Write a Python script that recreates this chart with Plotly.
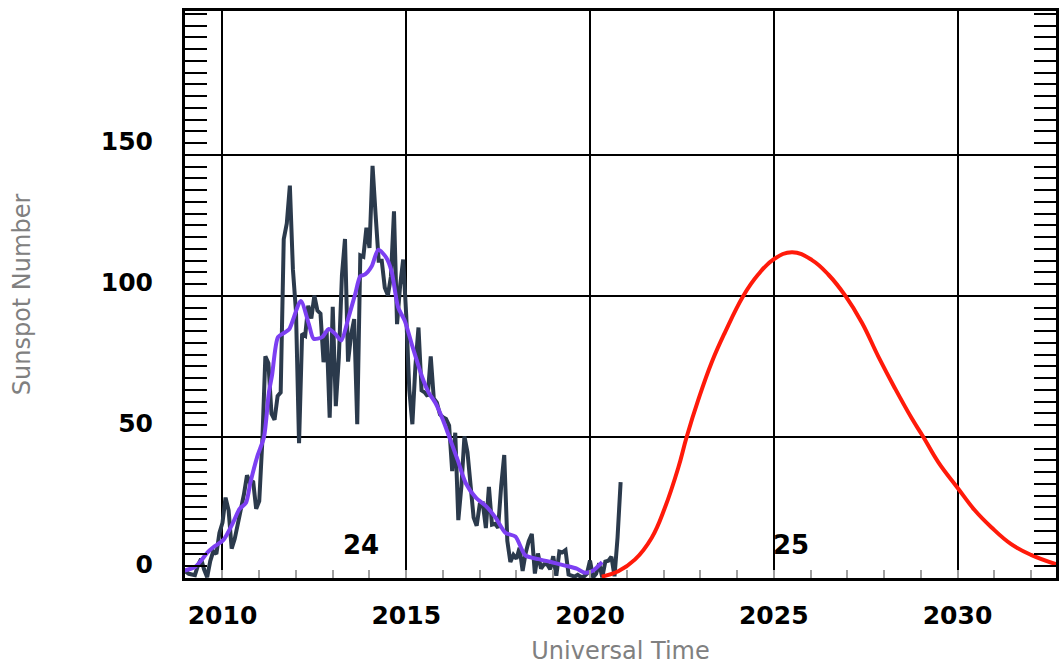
import plotly.graph_objects as go

# Monthly mean sunspot number, starting December 2008
first_year, first_month = 2008, 12
monthly_ssn = [
    2.0,
    2.3, 1.5, 1.2, 1.0, 4.5, 6.8, 3.0, 0.3, 6.0, 9.5, 8.5, 16.0,          # 2009
    19.6, 28.5, 24.0, 10.4, 13.9, 18.8, 25.2, 29.6, 36.4, 33.6, 34.4, 24.5,  # 2010
    27.3, 48.3, 78.6, 76.1, 58.2, 56.1, 64.5, 65.8, 120.1, 125.7, 139.1, 109.3,  # 2011
    94.4, 47.8, 86.6, 85.9, 96.5, 92.0, 100.1, 94.8, 93.7, 76.5, 87.6, 56.8,  # 2012
    96.1, 60.9, 78.3, 107.3, 120.2, 76.7, 86.2, 91.8, 54.5, 114.4, 113.9, 124.2,  # 2013
    117.0, 146.1, 128.7, 112.5, 112.5, 102.9, 100.2, 106.9, 130.0, 90.0, 103.6, 112.9,  # 2014
    93.0, 66.7, 54.5, 75.3, 88.8, 66.5, 65.8, 64.4, 78.6, 63.6, 62.2, 58.0,  # 2015
    57.0, 56.4, 54.1, 37.9, 51.5, 20.5, 32.4, 50.2, 44.6, 33.4, 21.4, 18.5,  # 2016
    26.1, 26.4, 17.7, 32.3, 18.9, 19.2, 17.8, 32.6, 43.6, 13.2, 5.7, 8.2,   # 2017
    6.8, 10.7, 2.5, 8.9, 13.1, 15.6, 1.6, 8.7, 3.3, 4.9, 4.9, 3.1,          # 2018
    7.7, 0.8, 9.4, 9.1, 9.9, 1.2, 0.9, 0.5, 1.1, 0.4, 0.5, 1.5,             # 2019
    6.2, 0.2, 1.5, 5.2, 0.2, 5.8, 6.1, 7.5, 0.6, 14.4, 34.0,                # 2020
]
monthly_t = [first_year + (first_month - 1 + i) / 12 for i in range(len(monthly_ssn))]

# Smoothed sunspot number
smoothed_t = [2008.92, 2009.25, 2009.42, 2009.6, 2009.75, 2010.02, 2010.29, 2010.46,
              2010.64, 2010.76, 2010.95, 2011.13, 2011.26, 2011.35, 2011.51, 2011.69,
              2011.82, 2012.13, 2012.35, 2012.48, 2012.71, 2012.89, 2013.07, 2013.23,
              2013.43, 2013.61, 2013.75, 2013.88, 2014.06, 2014.24, 2014.46, 2014.6,
              2014.78, 2014.96, 2015.17, 2015.44, 2015.6, 2015.81,
              2016.0, 2016.17, 2016.4, 2016.62, 2016.9, 2017.17, 2017.43, 2017.7,
              2017.97, 2018.24, 2018.6, 2018.96, 2019.32, 2019.64, 2019.86, 2020.09,
              2020.33]
smoothed_ssn = [2.5, 3.9, 6.2, 9.2, 10.9, 13.4, 19.7, 24.4,
                26.7, 33.8, 43.2, 50.0, 65.5, 72.0, 85.4, 87.0,
                88.3, 98.2, 90.0, 84.8, 85.4, 88.3, 86.5, 84.2,
                92.4, 100.6, 107.0, 107.6, 110.5, 116.4, 113.5, 108.8,
                95.9, 91.2, 82.0, 71.0, 66.0, 61.7,
                56.0, 50.0, 41.8, 33.6, 28.4, 25.5, 21.4, 16.0,
                14.7, 8.0, 6.7, 5.6, 4.4, 3.3, 1.9, 2.7,
                5.6]

# Predicted cycle 25
predicted_t = [2020.32, 2020.77, 2021.22, 2021.68, 2022.04, 2022.4, 2022.63, 2022.95,
               2023.31, 2023.67, 2024.17, 2024.57, 2025.0, 2025.5, 2026.04, 2026.49,
               2026.95, 2027.4, 2027.85, 2028.3, 2028.75, 2029.07, 2029.48, 2030.0,
               2030.47, 2030.92, 2031.46, 2032.0, 2032.7]
predicted_ssn = [0.5, 2.4, 6.5, 14.3, 25.0, 39.0, 50.0, 63.3,
                 76.4, 87.0, 100.0, 107.5, 113.0, 115.5, 112.7, 107.5,
                 100.0, 90.5, 78.4, 67.2, 56.7, 50.0, 41.0, 32.0,
                 24.0, 18.0, 12.0, 8.2, 4.8]

cycle_labels = ["24", "25"]
cycle_label_t = [2013.78, 2025.47]
cycle_label_y = [11.7, 11.7]

year_ticks = [2010, 2015, 2020, 2025, 2030]
ssn_ticks = [0, 50, 100, 150]

TICK_FONT = dict(family="DejaVu Sans", size=25, color="black", weight="bold")
TITLE_FONT = dict(family="DejaVu Sans", size=24, color="#808080")

fig = go.Figure()
fig.add_trace(go.Scatter(x=monthly_t, y=monthly_ssn, mode="lines",
                         line=dict(color="#2b3a4c", width=4), showlegend=False))
fig.add_trace(go.Scatter(x=smoothed_t, y=smoothed_ssn, mode="lines",
                         line=dict(color="#7c3ff2", width=4, shape="spline", smoothing=0.7),
                         showlegend=False))
fig.add_trace(go.Scatter(x=predicted_t, y=predicted_ssn, mode="lines",
                         line=dict(color="#ff1a0a", width=4, shape="spline", smoothing=1.2),
                         showlegend=False))

for txt, tx, ty in zip(cycle_labels, cycle_label_t, cycle_label_y):
    fig.add_annotation(x=tx, y=ty, text=txt, showarrow=False,
                       font=dict(family="DejaVu Sans", size=26, color="black", weight="bold"))

fig.update_layout(
    width=1059, height=665,
    margin=dict(l=185, r=0, t=11, b=87),
    paper_bgcolor="white", plot_bgcolor="white",
    showlegend=False,
    xaxis=dict(
        range=[2008.98, 2032.68],
        tickmode="array", tickvals=year_ticks,
        ticks="inside", ticklen=8, tickwidth=2, tickcolor="#a0a0a0",
        minor=dict(tickmode="linear", tick0=2010, dtick=1, ticks="inside",
                   ticklen=8, tickwidth=2, tickcolor="#a0a0a0", showgrid=False),
        showgrid=True, gridcolor="black", gridwidth=2,
        showline=True, linecolor="black", linewidth=3, mirror=True,
        zeroline=False,
        tickfont=TICK_FONT, ticklabelstandoff=13,
        title=dict(text="Universal Time", font=TITLE_FONT, standoff=17),
    ),
    yaxis=dict(
        range=[0, 201],
        tickmode="array", tickvals=ssn_ticks,
        ticks="inside", ticklen=22, tickwidth=2, tickcolor="black",
        minor=dict(tickmode="linear", tick0=0, dtick=50 / 12, ticks="inside",
                   ticklen=22, tickwidth=2, tickcolor="black", showgrid=False),
        showgrid=True, gridcolor="black", gridwidth=2,
        showline=True, linecolor="black", linewidth=3, mirror="ticks",
        zeroline=False,
        tickfont=TICK_FONT, ticklabelshift=-14, ticklabelstandoff=24,
        title=dict(text="Sunspot Number", font=TITLE_FONT, standoff=64),
    ),
)

fig.write_html("out.html")
